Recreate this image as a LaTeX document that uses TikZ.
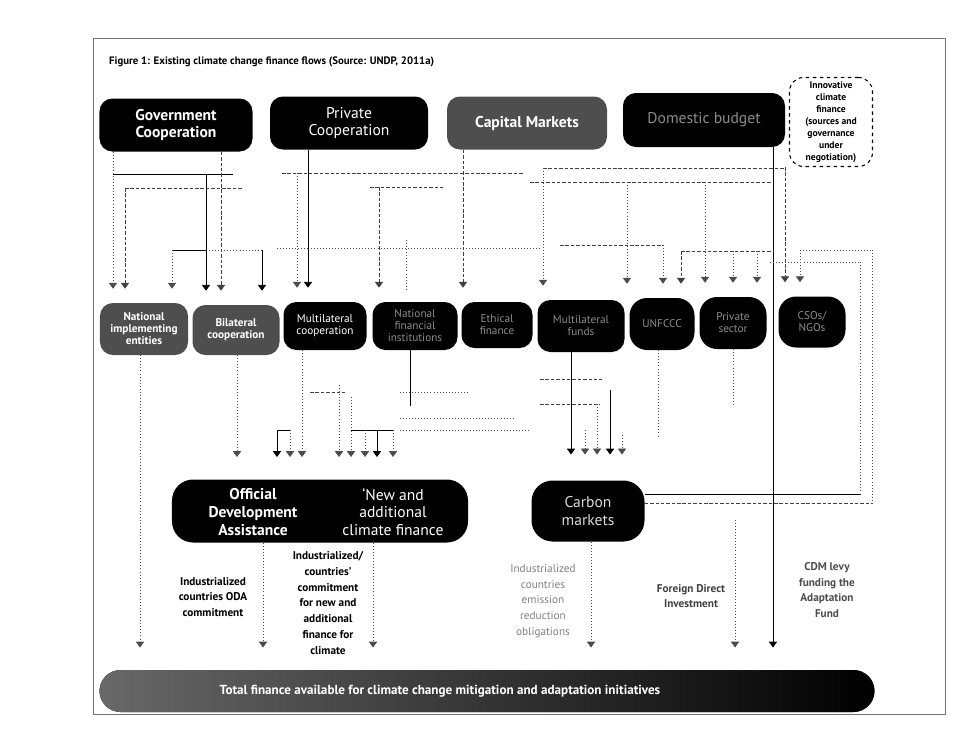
\documentclass[tikz,border=0pt]{standalone}
\usepackage{fontspec}
\setmainfont{PT Sans}
\usetikzlibrary{arrows.meta}
\definecolor{boxgray}{HTML}{4E4E4E}
\definecolor{dimtext}{HTML}{8C8C8C}

\begin{document}
\begin{tikzpicture}[x=0.03cm,y=-0.03cm,
	blk/.style={fill=black,rounded corners=11pt,inner sep=0pt,align=center,text=white},
	gry/.style={blk,fill=boxgray},
	topfont/.style={font=\fontsize{13.3}{15}\selectfont},
	topbold/.style={font=\fontsize{13.3}{15}\selectfont\bfseries},
	midbold/.style={font=\fontsize{9.6}{10.2}\selectfont\bfseries},
	midreg/.style={font=\fontsize{9.6}{10.2}\selectfont},
	sol/.style={line width=0.7pt},
	dsh/.style={black!75,line width=0.5pt,dash pattern=on 3pt off 1.6pt},
	dtt/.style={black!70,line width=0.6pt,dotted},
	arr/.style={-{Triangle[width=7pt,length=5pt]},shorten >=#1},
	arr/.default=12pt,
	note/.style={align=center,font=\fontsize{9.6}{13.4}\selectfont\bfseries},
	notereg/.style={align=center,font=\fontsize{9.6}{13.4}\selectfont}]
			\useasboundingbox (0,0) rectangle (957,728);
			\draw[black!55,line width=0.6pt] (93,38) rectangle (945,714);
			\node[anchor=west,font=\fontsize{9.2}{11}\selectfont\bfseries] (ttl) at (105,62) {Figure 1: Existing climate change finance flows (Source: UNDP, 2011a)};
			\node[blk,topbold,minimum width=4.59cm,minimum height=1.59cm] (gov) at (176,125) {Government\\Cooperation};
			\node[blk,topfont,minimum width=4.74cm,minimum height=1.59cm] (priv) at (349,123) {Private\\Cooperation};
			\node[gry,topbold,minimum width=4.8cm,minimum height=1.59cm] (cap) at (527,123) {Capital Markets};
			\node[blk,topfont,text=dimtext,minimum width=4.86cm,minimum height=1.62cm] (dom) at (704,120) {Domestic budget};
			\node[draw,dashed,line width=0.9pt,rounded corners=12pt,inner sep=0pt,align=center,minimum width=2.49cm,minimum height=2.67cm,font=\fontsize{8.2}{10.2}\selectfont\bfseries] (innov) at (831,122) {Innovative\\climate\\finance\\(sources and\\governance\\under\\negotiation)};
			\node[gry,midbold,minimum width=2.64cm,minimum height=1.56cm] (nie) at (144,329) {National\\implementing\\entities};
			\node[gry,midbold,minimum width=2.61cm,minimum height=1.5cm] (bil) at (236,330) {Bilateral\\cooperation};
			\node[blk,midreg,minimum width=2.49cm,minimum height=1.44cm] (mul) at (325,326) {Multilateral\\cooperation};
			\node[blk,midreg,text=dimtext,minimum width=2.55cm,minimum height=1.44cm] (nfi) at (415,326) {National\\financial\\institutions};
			\node[blk,midreg,text=dimtext,minimum width=2.13cm,minimum height=1.38cm] (eth) at (497,325) {Ethical\\finance};
			\node[blk,midreg,text=dimtext,minimum width=2.61cm,minimum height=1.56cm] (mlf) at (581,326) {Multilateral\\funds};
			\node[blk,midreg,text=dimtext,rounded corners=15pt,minimum width=1.95cm,minimum height=1.56cm] (unf) at (662,324) {UNFCCC};
			\node[blk,midreg,text=dimtext,rounded corners=15pt,minimum width=2.01cm,minimum height=1.56cm] (pse) at (733,323) {Private\\sector};
			\node[blk,midreg,text=dimtext,rounded corners=15pt,minimum width=2.01cm,minimum height=1.53cm] (cso) at (812,322) {CSOs/\\NGOs};
			\node[blk,rounded corners=18pt,minimum width=8.88cm,minimum height=1.89cm] (finbox) at (320,511) {};
			\node[align=center,text=white,topbold] (odatxt) at (253,512) {Official\\Development\\Assistance};
			\node[align=center,text=white,topfont] (naftxt) at (393,512) {`New and\\additional\\climate finance};
			\node[blk,topfont,text=black!15,rounded corners=18pt,minimum width=3.39cm,minimum height=1.83cm] (carb) at (588,511) {Carbon\\markets};
			\node[blk,rounded corners=18pt,left color=boxgray!85,right color=black,minimum width=23.25cm,minimum height=1.26cm] (total) at (487,691) {};
			\node[text=white,font=\fontsize{11.2}{13}\selectfont\bfseries] (totaltxt) at (440,691) {Total finance available for climate change mitigation and adaptation initiatives};
			\node[note] (t1) at (213,597) {Industrialized\\countries ODA\\commitment};
			\node[note] (t2) at (328,603) {Industrialized/\\countries'\\commitment\\for new and\\additional\\finance for\\climate};
			\node[notereg,text=black!50] (t3) at (543,601) {Industrialized\\countries\\emission\\reduction\\obligations};
			\node[note,text=black!75] (t4) at (691,596) {Foreign Direct\\Investment};
			\node[note,text=black!70] (t5) at (827,590) {CDM levy\\funding the\\Adaptation\\Fund};
			\draw[dtt,arr] (gov.south -| 113,0) -- (nie.north -| 113,0);
			\draw[sol] (113,174) -- (233,174);
			\draw[sol,arr] (206,174) -- (bil.north -| 206,0);
			\draw[dsh] (125,188) -- (243,188);
			\draw[dsh,arr] (125,188) -- (nie.north -| 125,0);
			\draw[dsh,arr] (gov.south -| 221,0) -- (bil.north -| 221,0);
			\draw[sol] (172,250) -- (206,250);
			\draw[dtt] (206,250) -- (262,250);
			\draw[dtt,arr] (172,250) -- (nie.north -| 172,0);
			\draw[sol,arr] (262,250) -- (bil.north -| 262,0);
			\draw[sol,arr] (priv.south -| 308,0) -- (mul.north -| 308,0);
			\draw[dsh] (282,173) -- (523,173);
			\draw[dtt,arr] (297,173) -- (mul.north -| 297,0);
			\draw[dsh] (370,187) -- (443,187);
			\draw[dsh,arr] (379,187) -- (nfi.north -| 379,0);
			\draw[dtt] (277,248) -- (540,248);
			\draw[dtt] (406,240) -- (406,290);
			\draw[dsh,arr] (cap.south -| 463,0) -- (eth.north -| 463,0);
			\draw[dsh] (543,168) -- (785,168);
			\draw[dtt,arr] (543,168) -- (mlf.north -| 543,0);
			\draw[dsh] (530,182) -- (773,182);
			\draw[dtt,arr] (627,182) -- (unf.north -| 627,0);
			\draw[sol,arr=19pt] (dom.south -| 773,0) -- (total.north -| 773,0);
			\draw[dsh] (560,245) -- (663,245);
			\draw[dtt,arr] (663,245) -- (unf.north -| 663,0);
			\draw[dsh] (681,251) -- (773,251);
			\draw[dsh,arr] (681,251) -- (unf.north -| 681,0);
			\draw[dtt,arr] (705,182) -- (pse.north -| 705,0);
			\draw[dtt,arr] (733,251) -- (pse.north -| 733,0);
			\draw[dtt,arr] (757,251) -- (pse.north -| 757,0);
			\draw[dsh,arr] (innov.south -| 785,0) -- (cso.north -| 785,0);
			\draw[dtt] (770,262) -- (860,262);
			\draw[dtt] (800,250) -- (872,250);
			\draw[dtt,arr] (800,250) -- (cso.north -| 800,0);
			\draw[dtt] (860,262) -- (860,494);
			\draw[dtt] (872,250) -- (872,503);
			\draw[sol] (carb.east |- 0,494) -- (860,494);
			\draw[dsh] (carb.east |- 0,503) -- (872,503);
			\draw[dtt,arr=19pt] (bil.south -| 237,0) -- (finbox.north -| 237,0);
			\draw[dtt,arr=19pt] (mul.south -| 302,0) -- (finbox.north -| 302,0);
			\draw[sol] (277,430) -- (290,430);
			\draw[sol,arr=19pt] (277,430) -- (finbox.north -| 277,0);
			\draw[dtt,arr=19pt] (290,430) -- (finbox.north -| 290,0);
			\draw[dsh] (310,392) -- (345,392);
			\draw[dtt,arr=19pt] (339,385) -- (finbox.north -| 339,0);
			\draw[dtt,arr=19pt] (351,397) -- (finbox.north -| 351,0);
			\draw[sol] (351,430) -- (393,430);
			\draw[dtt,arr=19pt] (365,430) -- (finbox.north -| 365,0);
			\draw[sol,arr=19pt] (377,430) -- (finbox.north -| 377,0);
			\draw[dtt,arr=19pt] (393,430) -- (finbox.north -| 393,0);
			\draw[sol] (nfi.south -| 410,0) -- (410,406);
			\draw[dtt] (400,392) -- (470,392);
			\draw[dtt] (400,418) -- (515,418);
			\draw[dtt] (400,430) -- (530,430);
			\draw[sol,arr=22pt] (mlf.south -| 571,0) -- (carb.north -| 571,0);
			\draw[dsh] (540,379) -- (602,379);
			\draw[dsh] (540,404) -- (600,404);
			\draw[dtt,arr=22pt] (585,430) -- (carb.north -| 585,0);
			\draw[dtt,arr=22pt] (597,404) -- (carb.north -| 597,0);
			\draw[sol,arr=22pt] (610,390) -- (carb.north -| 610,0);
			\draw[dtt,arr=22pt] (622,435) -- (carb.north -| 622,0);
			\draw[dtt] (unf.south -| 658,0) -- (658,437);
			\draw[dtt] (pse.south -| 733,0) -- (733,405);
			\draw[dtt,arr=19pt] (nie.south -| 140,0) -- (total.north -| 140,0);
			\draw[dtt,arr=19pt] (finbox.south -| 263,0) -- (total.north -| 263,0);
			\draw[dtt,arr=19pt] (finbox.south -| 373,0) -- (total.north -| 373,0);
			\draw[dtt,arr=19pt] (carb.south -| 591,0) -- (total.north -| 591,0);
			\draw[dtt,arr=19pt] (735,520) -- (total.north -| 735,0);
		\end{tikzpicture}
\end{document}
